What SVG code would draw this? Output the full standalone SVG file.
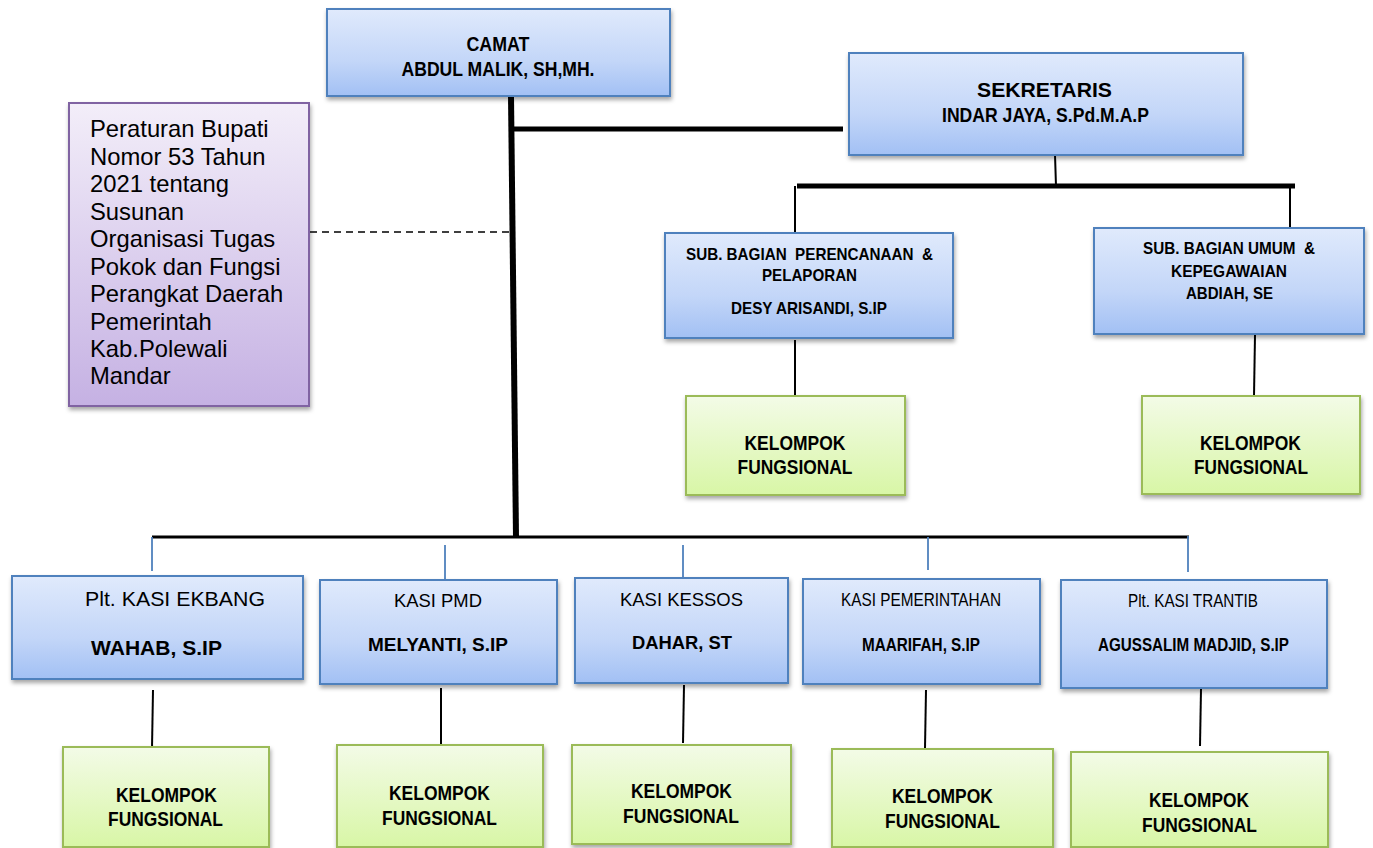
<svg xmlns="http://www.w3.org/2000/svg" width="1373" height="848" viewBox="0 0 1373 848">
<defs>
<linearGradient id="gBlue" x1="0" y1="0" x2="0" y2="1">
<stop offset="0" stop-color="#E0EAFC"/><stop offset="0.6" stop-color="#C3D6F8"/><stop offset="1" stop-color="#A2C0F4"/>
</linearGradient>
<linearGradient id="gGreen" x1="0" y1="0" x2="0" y2="1">
<stop offset="0" stop-color="#F3FBE7"/><stop offset="1" stop-color="#D8F6A6"/>
</linearGradient>
<linearGradient id="gPurple" x1="0" y1="0" x2="0" y2="1">
<stop offset="0" stop-color="#F3EEF9"/><stop offset="1" stop-color="#C5B1E3"/>
</linearGradient>
<filter id="sh" x="-10%" y="-10%" width="120%" height="130%">
<feDropShadow dx="1" dy="3" stdDeviation="2" flood-color="#000" flood-opacity="0.35"/>
</filter>
</defs>
<style>
.blue{fill:url(#gBlue);stroke:#4F81BD;stroke-width:2;filter:url(#sh)}
.green{fill:url(#gGreen);stroke:#9BBB59;stroke-width:2;filter:url(#sh)}
.purple{fill:url(#gPurple);stroke:#8064A2;stroke-width:2;filter:url(#sh)}
text{font-family:"Liberation Sans",Arial,sans-serif;fill:#000}
.b{font-weight:bold}
.c{text-anchor:middle}
.pre{white-space:pre}
.kf{font-weight:bold;text-anchor:middle;font-size:20.5px}
.thick{stroke:#000;stroke-width:6;fill:none}
.bus{stroke:#000;stroke-width:5;fill:none}
.thin{stroke:#000;stroke-width:2;fill:none}
.bl{stroke:#4F81BD;stroke-width:1.8;fill:none}
.dash{stroke:#000;stroke-width:1.5;stroke-dasharray:7 5;fill:none}
</style>
<rect width="1373" height="848" fill="#fff"/>

<g id="connectors">
<line class="thick" x1="511" y1="96" x2="516" y2="537"/>
<line class="bus" x1="511" y1="129" x2="843" y2="129"/>
<line class="dash" x1="310" y1="232" x2="511" y2="232"/>
<line class="thin" x1="1055" y1="155" x2="1056" y2="186"/>
<line class="bus" x1="797" y1="186" x2="1295" y2="186"/>
<line class="thin" x1="795" y1="186" x2="795" y2="233"/>
<line class="thin" x1="1290" y1="186" x2="1290" y2="230"/>
<line class="thin" x1="795" y1="340" x2="795" y2="396"/>
<line class="thin" x1="1255" y1="335" x2="1254" y2="396"/>
<line stroke="#000" stroke-width="3" x1="152" y1="537" x2="1189" y2="537"/>
<line class="bl" x1="152" y1="537" x2="152" y2="571"/>
<line class="bl" x1="445" y1="545" x2="445" y2="579"/>
<line class="bl" x1="683" y1="545" x2="683" y2="577"/>
<line class="bl" x1="928" y1="537" x2="928" y2="570"/>
<line class="bl" x1="1188" y1="536" x2="1188" y2="572"/>
<line class="thin" x1="153" y1="690" x2="152" y2="748"/>
<line class="thin" x1="441" y1="688" x2="441" y2="746"/>
<line class="thin" x1="684" y1="685" x2="683" y2="743"/>
<line class="thin" x1="926" y1="690" x2="925" y2="748"/>
<line class="thin" x1="1201" y1="689" x2="1200" y2="746"/>
</g>

<g id="camat">
<rect class="blue" x="327" y="9" width="343" height="87"/>
<text class="b c" x="498" y="51" font-size="20.5" textLength="63" lengthAdjust="spacingAndGlyphs">CAMAT</text>
<text class="b c" x="498" y="76" font-size="20" textLength="193" lengthAdjust="spacingAndGlyphs">ABDUL MALIK, SH,MH.</text>
</g>

<g id="peraturan">
<rect class="purple" x="69" y="103" width="240" height="303"/>
<text font-size="23.8" x="90">
<tspan x="90" y="137">Peraturan Bupati</tspan>
<tspan x="90" y="164.5">Nomor 53 Tahun</tspan>
<tspan x="90" y="192">2021 tentang</tspan>
<tspan x="90" y="219.5">Susunan</tspan>
<tspan x="90" y="247">Organisasi Tugas</tspan>
<tspan x="90" y="274.5">Pokok dan Fungsi</tspan>
<tspan x="90" y="302">Perangkat Daerah</tspan>
<tspan x="90" y="329.5">Pemerintah</tspan>
<tspan x="90" y="357">Kab.Polewali</tspan>
<tspan x="90" y="384">Mandar</tspan>
</text>
</g>

<g id="sekretaris">
<rect class="blue" x="849" y="53" width="394" height="102"/>
<text class="b c" x="1044.5" y="97" font-size="19.5" textLength="135" lengthAdjust="spacingAndGlyphs">SEKRETARIS</text>
<text class="b c" x="1045.5" y="122" font-size="19.5" textLength="207" lengthAdjust="spacingAndGlyphs">INDAR JAYA, S.Pd.M.A.P</text>
</g>

<g id="subbag-perencanaan">
<rect class="blue" x="665" y="233" width="288" height="105"/>
<text class="b c pre" x="809.5" y="260" font-size="16.3" textLength="247" lengthAdjust="spacingAndGlyphs">SUB. BAGIAN  PERENCANAAN  &amp;</text>
<text class="b c" x="809.5" y="281" font-size="16.3" textLength="95" lengthAdjust="spacingAndGlyphs">PELAPORAN</text>
<text class="b c" x="809" y="314" font-size="16.3" textLength="156" lengthAdjust="spacingAndGlyphs">DESY ARISANDI, S.IP</text>
</g>

<g id="subbag-umum">
<rect class="blue" x="1094" y="228" width="270" height="106"/>
<text class="b c pre" x="1229" y="254" font-size="16.5" textLength="172" lengthAdjust="spacingAndGlyphs">SUB. BAGIAN UMUM  &amp;</text>
<text class="b c" x="1229" y="276.5" font-size="16.5" textLength="116" lengthAdjust="spacingAndGlyphs">KEPEGAWAIAN</text>
<text class="b c" x="1229.5" y="299" font-size="16.5" textLength="87" lengthAdjust="spacingAndGlyphs">ABDIAH, SE</text>
</g>

<g id="kf-perencanaan">
<rect class="green" x="686" y="396" width="219" height="99"/>
<text class="kf" x="795" y="450" textLength="101" lengthAdjust="spacingAndGlyphs">KELOMPOK</text>
<text class="kf" x="795" y="474" textLength="115" lengthAdjust="spacingAndGlyphs">FUNGSIONAL</text>
</g>

<g id="kf-umum">
<rect class="green" x="1142" y="396" width="218" height="98"/>
<text class="kf" x="1250.5" y="450" textLength="101" lengthAdjust="spacingAndGlyphs">KELOMPOK</text>
<text class="kf" x="1251" y="474" textLength="114" lengthAdjust="spacingAndGlyphs">FUNGSIONAL</text>
</g>

<g id="kasi-ekbang">
<rect class="blue" x="12" y="576" width="291" height="103"/>
<text class="c" x="175" y="606" font-size="21" textLength="180" lengthAdjust="spacingAndGlyphs">Plt. KASI EKBANG</text>
<text class="b c" x="156.5" y="655" font-size="21" textLength="131" lengthAdjust="spacingAndGlyphs">WAHAB, S.IP</text>
</g>

<g id="kasi-pmd">
<rect class="blue" x="320" y="580" width="237" height="104"/>
<text class="c" x="438" y="607" font-size="18.5" textLength="88" lengthAdjust="spacingAndGlyphs">KASI PMD</text>
<text class="b c" x="438" y="651" font-size="18.5" textLength="140" lengthAdjust="spacingAndGlyphs">MELYANTI, S.IP</text>
</g>

<g id="kasi-kessos">
<rect class="blue" x="575" y="578" width="213" height="105"/>
<text class="c" x="681.5" y="606" font-size="18.5" textLength="123" lengthAdjust="spacingAndGlyphs">KASI KESSOS</text>
<text class="b c" x="682" y="649" font-size="18.5" textLength="100" lengthAdjust="spacingAndGlyphs">DAHAR, ST</text>
</g>

<g id="kasi-pemerintahan">
<rect class="blue" x="803" y="579" width="237" height="105"/>
<text class="c" x="921" y="606" font-size="18.5" textLength="160" lengthAdjust="spacingAndGlyphs">KASI PEMERINTAHAN</text>
<text class="b c" x="921" y="651" font-size="18.5" textLength="118" lengthAdjust="spacingAndGlyphs">MAARIFAH, S.IP</text>
</g>

<g id="kasi-trantib">
<rect class="blue" x="1061" y="580" width="266" height="108"/>
<text class="c" x="1193" y="607" font-size="17.5" textLength="130" lengthAdjust="spacingAndGlyphs">Plt. KASI TRANTIB</text>
<text class="b c" x="1193.5" y="651" font-size="17.5" textLength="191" lengthAdjust="spacingAndGlyphs">AGUSSALIM MADJID, S.IP</text>
</g>

<g id="kf-ekbang">
<rect class="green" x="63" y="747" width="206" height="100"/>
<text class="kf" x="166.5" y="802" textLength="101" lengthAdjust="spacingAndGlyphs">KELOMPOK</text>
<text class="kf" x="165.5" y="826" textLength="115" lengthAdjust="spacingAndGlyphs">FUNGSIONAL</text>
</g>

<g id="kf-pmd">
<rect class="green" x="337" y="745" width="206" height="102"/>
<text class="kf" x="439.5" y="800" textLength="101" lengthAdjust="spacingAndGlyphs">KELOMPOK</text>
<text class="kf" x="439.5" y="825" textLength="115" lengthAdjust="spacingAndGlyphs">FUNGSIONAL</text>
</g>

<g id="kf-kessos">
<rect class="green" x="572" y="745" width="219" height="99"/>
<text class="kf" x="681.5" y="798" textLength="101" lengthAdjust="spacingAndGlyphs">KELOMPOK</text>
<text class="kf" x="681" y="823" textLength="116" lengthAdjust="spacingAndGlyphs">FUNGSIONAL</text>
</g>

<g id="kf-pemerintahan">
<rect class="green" x="832" y="749" width="221" height="98"/>
<text class="kf" x="942.5" y="803" textLength="101" lengthAdjust="spacingAndGlyphs">KELOMPOK</text>
<text class="kf" x="942.5" y="828" textLength="115" lengthAdjust="spacingAndGlyphs">FUNGSIONAL</text>
</g>

<g id="kf-trantib">
<rect class="green" x="1071" y="752" width="257" height="95"/>
<text class="kf" x="1199" y="807" textLength="100" lengthAdjust="spacingAndGlyphs">KELOMPOK</text>
<text class="kf" x="1199.5" y="832" textLength="115" lengthAdjust="spacingAndGlyphs">FUNGSIONAL</text>
</g>
</svg>
